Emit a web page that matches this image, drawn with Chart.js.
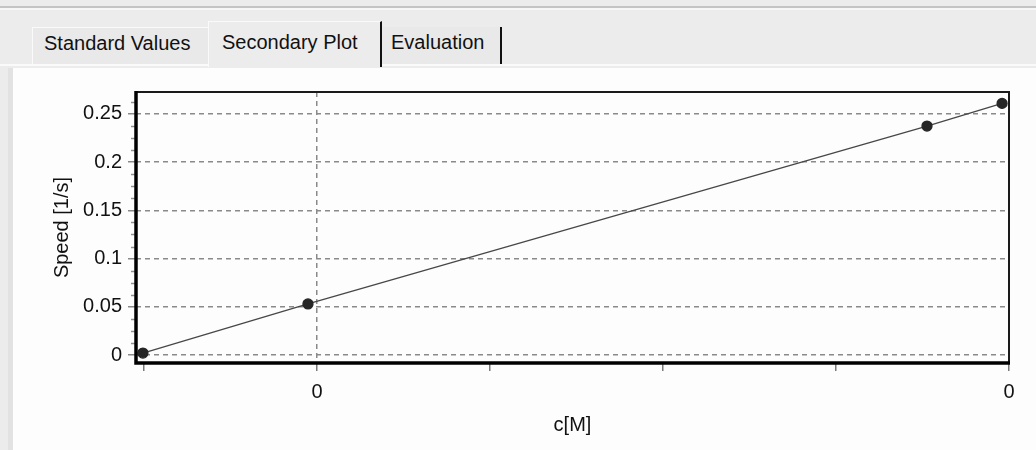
<!DOCTYPE html>
<html>
<head>
<meta charset="utf-8">
<script src="https://cdn.jsdelivr.net/npm/chart.js@4.4.1/dist/chart.umd.min.js"></script>
<style>
  body { margin: 0; width: 1036px; height: 450px; background: #ececec; position: relative; overflow: hidden;
         font-family: "Liberation Sans", Arial, sans-serif; }
  .topline { position: absolute; left: 0; right: 0; top: 6px; height: 2px; background: #c4c4c4; border-bottom: 2px solid #f6f6f6; }
  .tab { position: absolute; box-sizing: border-box; background: #e9e9e9; font-size: 20px; color: #111; }
  .tab span { position: absolute; top: 0; white-space: nowrap; }
  #t1 { left: 32px; top: 27px; width: 176px; height: 37px; border-left: 1px solid #fafafa; border-top: 1px solid #fafafa; }
  #t1 span { left: 11px; top: 4px; }
  #t2 { left: 208px; top: 21px; width: 174px; height: 46px; background: #ececec; border-left: 1px solid #fafafa; border-top: 1px solid #fafafa; border-right: 2px solid #111; z-index: 2; }
  #t2 span { left: 13px; top: 9px; }
  #t3 { left: 382px; top: 27px; width: 120px; height: 37px; border-right: 2px solid #111; }
  #t3 span { left: 9px; top: 4px; }
  .stripline { position: absolute; left: 0; right: 0; top: 64px; height: 2px; background: #fafafa; }
  .panel { position: absolute; left: 8px; top: 68px; right: 0; bottom: 0; background: #fdfdfd; border-left: 5px solid #e2e2e2; }
  #chart { position: absolute; left: 0; top: 68px; }
</style>
</head>
<body>
<div class="topline"></div>
<div class="stripline"></div>
<div class="tab" id="t1"><span>Standard Values</span></div>
<div class="tab" id="t2"><span>Secondary Plot</span></div>
<div class="tab" id="t3"><span>Evaluation</span></div>
<div class="panel"></div>
<canvas id="chart" width="1036" height="382"></canvas>
<script>
// valores
const concentrations = [-0.006, 0.948, 4.526, 4.96];
const speeds = [0.002, 0.053, 0.2375, 0.261];
const xTicks = [0, 1, 2, 3, 4, 5];
const xTickLabels = ["", "0", "", "", "", "0"];
const yTicks = [0, 0.05, 0.1, 0.15, 0.2, 0.25];
const yMinorStep = 0.0125;

const points = concentrations.map((c, i) => ({ x: c, y: speeds[i] }));

// marco y ticks menores del eje y
const framePlugin = {
  id: "frame",
  afterDraw(chart) {
    const { ctx, chartArea: a, scales } = chart;
    const y = scales.y;
    ctx.save();
    ctx.strokeStyle = "#909090";
    ctx.lineWidth = 1.5;
    for (let v = 0; v <= y.max; v += yMinorStep) {
      if (yTicks.some(t => Math.abs(t - v) < 1e-6)) continue;
      const py = Math.round(y.getPixelForValue(v)) + 0.5;
      ctx.beginPath();
      ctx.moveTo(a.left - 5, py);
      ctx.lineTo(a.left - 1, py);
      ctx.stroke();
    }
    ctx.strokeStyle = "#1a1a1a";
    ctx.lineWidth = 2;
    ctx.beginPath();
    ctx.moveTo(a.left, a.top);
    ctx.lineTo(a.right, a.top);
    ctx.lineTo(a.right, a.bottom);
    ctx.stroke();
    ctx.strokeStyle = "#000";
    ctx.lineWidth = 3.5;
    ctx.beginPath();
    ctx.moveTo(a.left, a.top - 1);
    ctx.lineTo(a.left, a.bottom);
    ctx.lineTo(a.right + 1, a.bottom);
    ctx.stroke();
    ctx.restore();
  }
};

Chart.defaults.font.family = "'Liberation Sans', Arial, sans-serif";
Chart.defaults.font.size = 20;
Chart.defaults.color = "#111";

new Chart(document.getElementById("chart"), {
  type: "line",
  data: {
    datasets: [{
      data: points,
      borderColor: "#474747",
      borderWidth: 1.3,
      pointRadius: 5,
      pointBackgroundColor: "#262626",
      pointBorderColor: "#262626",
      tension: 0
    }]
  },
  options: {
    responsive: false,
    animation: false,
    layout: { padding: { top: 24, right: 27, left: 0, bottom: 0 } },
    plugins: { legend: { display: false }, tooltip: { enabled: false } },
    scales: {
      x: {
        type: "linear",
        min: -0.046,
        max: 5.0,
        afterBuildTicks: s => { s.ticks = xTicks.map(v => ({ value: v })); },
        afterFit: s => { s.height = 87; },
        ticks: {
          autoSkip: false,
          maxRotation: 0,
          padding: 9,
          callback: (v, i) => xTickLabels[i]
        },
        grid: {
          color: c => (c.tick && xTickLabels[c.index] !== "") ? "#8a8a8a" : "rgba(0,0,0,0)",
          lineWidth: 1.5,
          tickLength: 8,
          tickColor: "#7a7a7a",
          tickWidth: 1.5,
          tickBorderDash: []
        },
        border: { display: false, dash: [5, 4] },
        title: { display: true, text: "c[M]", padding: { top: 0, bottom: 13 } }
      },
      y: {
        min: -0.0083,
        max: 0.2728,
        afterBuildTicks: s => { s.ticks = yTicks.map(v => ({ value: v })); },
        afterFit: s => { s.width = 136; },
        ticks: { padding: 6, callback: v => String(v) },
        grid: {
          color: "#8a8a8a",
          lineWidth: 1.5,
          tickLength: 8,
          tickColor: "#8a8a8a",
          tickWidth: 1.5,
          tickBorderDash: []
        },
        border: { display: false, dash: [5, 4] },
        title: { display: true, text: "Speed [1/s]", padding: { top: 50, bottom: 0 } }
      }
    }
  },
  plugins: [framePlugin]
});
</script>
</body>
</html>
